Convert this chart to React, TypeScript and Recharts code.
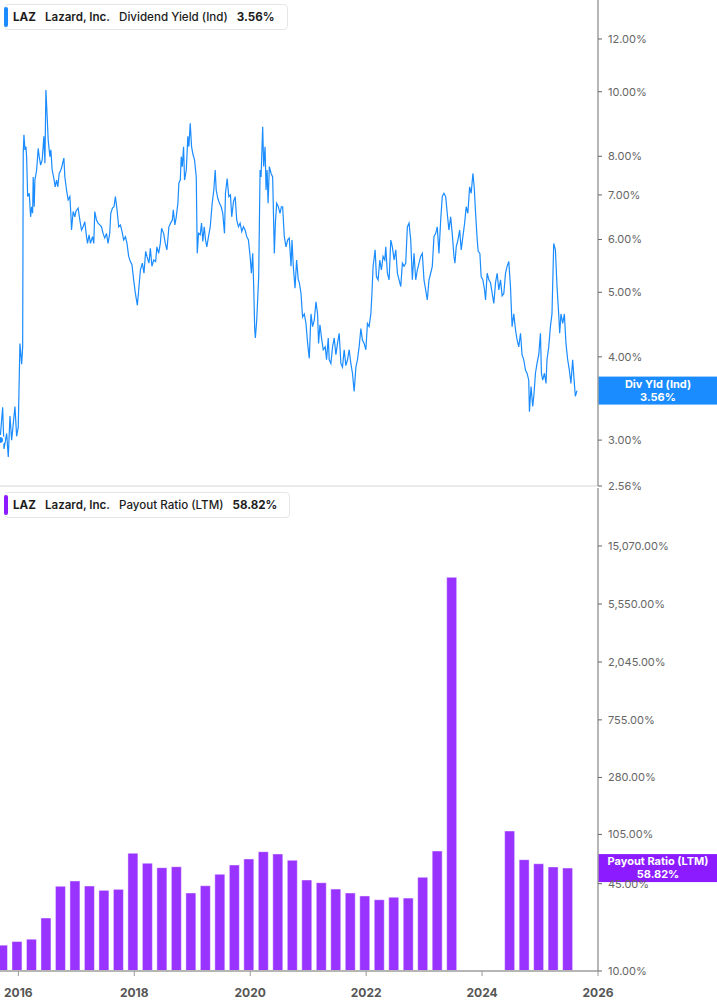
import React from "react";
import { ComposedChart, Line, Bar, XAxis, YAxis, ReferenceLine } from "recharts";

const FONT = "Inter, 'Noto Sans', sans-serif";
const X_DOMAIN: [number, number] = [2015.683, 2026.0];
const yearTicks = [2016, 2018, 2020, 2022, 2024, 2026];

// dividend yield (indicated), % — [fractional year, value]
const divYield: [number, number][] = [
  [2015.683, 3.0], [2015.729, 3.36], [2015.752, 2.91], [2015.798, 3.07], [2015.826, 2.83], [2015.855, 3.26],
  [2015.884, 3.0], [2015.941, 3.37], [2015.97, 3.04], [2015.998, 3.14], [2016.027, 4.19], [2016.057, 3.9],
  [2016.074, 4.14], [2016.084, 8.1], [2016.096, 8.62], [2016.113, 8.18], [2016.131, 8.27], [2016.143, 7.95],
  [2016.16, 6.96], [2016.187, 7.04], [2016.211, 6.49], [2016.229, 6.72], [2016.246, 6.57], [2016.256, 7.45],
  [2016.273, 6.72], [2016.285, 7.37], [2016.315, 7.63], [2016.342, 8.22], [2016.359, 7.99], [2016.384, 7.76],
  [2016.411, 7.9], [2016.44, 8.57], [2016.458, 7.81], [2016.475, 10.06], [2016.497, 9.17], [2016.514, 8.47],
  [2016.544, 7.99], [2016.561, 8.18], [2016.583, 7.63], [2016.612, 7.41], [2016.635, 7.2], [2016.659, 7.37],
  [2016.681, 7.2], [2016.704, 7.54], [2016.733, 7.63], [2016.75, 7.72], [2016.785, 7.95], [2016.802, 7.45],
  [2016.831, 7.12], [2016.859, 6.88], [2016.888, 6.96], [2016.905, 6.57], [2016.917, 6.2], [2016.945, 6.61],
  [2016.974, 6.49], [2016.991, 6.61], [2017.031, 6.69], [2017.06, 6.42], [2017.089, 6.2], [2017.117, 6.27],
  [2017.146, 6.38], [2017.175, 6.06], [2017.193, 5.92], [2017.22, 6.1], [2017.244, 5.92], [2017.279, 6.06],
  [2017.301, 5.92], [2017.318, 6.61], [2017.347, 6.42], [2017.375, 6.35], [2017.404, 6.31], [2017.434, 6.27],
  [2017.461, 6.13], [2017.49, 6.03], [2017.52, 6.13], [2017.547, 5.92], [2017.576, 6.13], [2017.594, 6.57],
  [2017.623, 6.69], [2017.65, 6.72], [2017.674, 6.96], [2017.702, 6.65], [2017.731, 6.27], [2017.761, 6.31],
  [2017.795, 6.13], [2017.817, 5.99], [2017.847, 6.06], [2017.874, 5.92], [2017.903, 5.66], [2017.933, 5.56],
  [2017.96, 5.5], [2017.989, 5.22], [2018.019, 4.98], [2018.053, 4.78], [2018.081, 5.1], [2018.105, 5.4],
  [2018.139, 5.53], [2018.167, 5.34], [2018.196, 5.76], [2018.218, 5.66], [2018.253, 5.53], [2018.277, 5.82],
  [2018.304, 5.47], [2018.334, 5.59], [2018.368, 5.56], [2018.39, 5.85], [2018.42, 5.72], [2018.449, 5.92],
  [2018.471, 6.24], [2018.506, 6.13], [2018.535, 5.92], [2018.563, 5.79], [2018.597, 6.27], [2018.626, 6.35],
  [2018.656, 6.42], [2018.673, 6.65], [2018.7, 6.31], [2018.724, 6.49], [2018.752, 6.8], [2018.769, 7.29],
  [2018.793, 7.37], [2018.81, 7.99], [2018.828, 7.72], [2018.85, 8.27], [2018.867, 7.37], [2018.897, 7.63],
  [2018.924, 8.57], [2018.941, 8.27], [2018.965, 8.97], [2018.988, 8.27], [2019.01, 8.07], [2019.039, 7.9],
  [2019.069, 7.45], [2019.086, 5.72], [2019.108, 6.13], [2019.137, 6.1], [2019.16, 6.35], [2019.182, 5.96],
  [2019.206, 6.27], [2019.229, 5.99], [2019.251, 5.85], [2019.28, 6.06], [2019.31, 6.27], [2019.344, 6.8],
  [2019.372, 7.12], [2019.396, 7.63], [2019.413, 7.12], [2019.44, 6.92], [2019.47, 6.8], [2019.499, 6.72],
  [2019.526, 6.57], [2019.556, 6.13], [2019.573, 7.04], [2019.602, 7.41], [2019.63, 6.96], [2019.659, 7.0],
  [2019.681, 6.49], [2019.711, 6.84], [2019.74, 6.96], [2019.767, 6.42], [2019.797, 6.27], [2019.826, 6.35],
  [2019.854, 6.17], [2019.883, 6.27], [2019.912, 6.2], [2019.94, 6.06], [2019.969, 5.99], [2019.998, 5.66],
  [2020.02, 5.34], [2020.043, 5.72], [2020.06, 5.1], [2020.077, 4.41], [2020.089, 4.27], [2020.112, 4.54],
  [2020.136, 5.04], [2020.146, 5.28], [2020.17, 7.63], [2020.187, 7.45], [2020.215, 8.86], [2020.232, 7.72],
  [2020.256, 8.27], [2020.273, 7.12], [2020.291, 7.63], [2020.308, 6.8], [2020.33, 7.72], [2020.36, 7.54],
  [2020.387, 7.45], [2020.416, 5.72], [2020.434, 6.35], [2020.456, 6.8], [2020.485, 6.72], [2020.514, 6.57],
  [2020.537, 6.72], [2020.559, 6.72], [2020.588, 6.06], [2020.618, 5.85], [2020.645, 5.99], [2020.674, 6.03],
  [2020.704, 5.47], [2020.721, 5.99], [2020.743, 5.47], [2020.773, 5.07], [2020.8, 5.59], [2020.829, 5.22],
  [2020.847, 5.17], [2020.876, 4.98], [2020.903, 4.59], [2020.933, 4.64], [2020.962, 4.49], [2020.99, 4.19],
  [2021.019, 3.98], [2021.048, 4.64], [2021.076, 4.44], [2021.105, 4.54], [2021.134, 4.84], [2021.162, 4.64],
  [2021.179, 4.19], [2021.203, 4.47], [2021.23, 4.27], [2021.26, 4.1], [2021.294, 4.14], [2021.317, 3.96],
  [2021.346, 4.27], [2021.363, 3.96], [2021.392, 3.91], [2021.42, 4.14], [2021.449, 4.27], [2021.478, 4.03],
  [2021.506, 4.19], [2021.535, 4.34], [2021.564, 3.91], [2021.592, 3.86], [2021.621, 4.1], [2021.65, 3.88],
  [2021.678, 3.96], [2021.707, 4.1], [2021.736, 3.91], [2021.764, 3.78], [2021.793, 3.55], [2021.823, 3.86],
  [2021.85, 3.96], [2021.879, 4.14], [2021.909, 4.41], [2021.936, 4.24], [2021.965, 4.19], [2021.995, 4.1],
  [2022.022, 4.49], [2022.051, 4.44], [2022.081, 4.64], [2022.098, 4.94], [2022.12, 5.47], [2022.155, 5.79],
  [2022.177, 5.28], [2022.206, 5.22], [2022.236, 5.59], [2022.263, 5.4], [2022.292, 5.66], [2022.322, 5.59],
  [2022.339, 5.85], [2022.366, 5.34], [2022.396, 5.22], [2022.425, 5.99], [2022.452, 5.85], [2022.482, 5.59],
  [2022.511, 5.79], [2022.539, 5.34], [2022.568, 5.22], [2022.597, 5.1], [2022.625, 5.53], [2022.654, 5.47],
  [2022.683, 5.53], [2022.711, 6.27], [2022.74, 6.35], [2022.769, 5.99], [2022.797, 5.22], [2022.826, 5.72],
  [2022.855, 5.22], [2022.883, 5.4], [2022.912, 5.53], [2022.941, 5.66], [2022.969, 5.72], [2022.998, 5.22],
  [2023.027, 5.04], [2023.055, 4.87], [2023.084, 5.22], [2023.113, 5.34], [2023.141, 5.47], [2023.17, 6.06],
  [2023.2, 6.13], [2023.227, 6.27], [2023.256, 5.72], [2023.286, 6.42], [2023.313, 6.96], [2023.342, 7.04],
  [2023.372, 6.96], [2023.399, 6.57], [2023.428, 6.2], [2023.458, 6.49], [2023.485, 6.13], [2023.515, 5.66],
  [2023.532, 5.53], [2023.554, 5.85], [2023.583, 5.99], [2023.613, 6.2], [2023.64, 5.79], [2023.669, 6.06],
  [2023.699, 6.35], [2023.726, 6.72], [2023.755, 6.57], [2023.785, 7.2], [2023.812, 7.04], [2023.842, 7.54],
  [2023.864, 7.2], [2023.888, 6.57], [2023.916, 5.99], [2023.933, 5.76], [2023.962, 5.72], [2023.984, 5.28],
  [2024.014, 5.22], [2024.043, 5.04], [2024.06, 4.87], [2024.088, 5.34], [2024.117, 5.22], [2024.146, 5.17],
  [2024.174, 4.98], [2024.203, 4.81], [2024.232, 5.17], [2024.26, 5.34], [2024.289, 5.04], [2024.318, 5.22],
  [2024.346, 4.94], [2024.375, 4.98], [2024.404, 5.34], [2024.432, 5.47], [2024.461, 5.56], [2024.49, 5.1],
  [2024.518, 4.44], [2024.547, 4.64], [2024.577, 4.39], [2024.604, 4.24], [2024.633, 4.14], [2024.663, 4.34],
  [2024.69, 4.03], [2024.719, 3.96], [2024.749, 3.82], [2024.776, 3.78], [2024.805, 3.69], [2024.817, 3.31],
  [2024.845, 3.61], [2024.874, 3.37], [2024.897, 3.53], [2024.921, 3.78], [2024.948, 3.91], [2024.978, 4.03],
  [2025.007, 4.34], [2025.024, 3.78], [2025.046, 3.69], [2025.076, 3.78], [2025.103, 3.65], [2025.12, 3.96],
  [2025.15, 4.14], [2025.179, 4.44], [2025.206, 4.64], [2025.236, 5.92], [2025.265, 5.79], [2025.293, 5.1],
  [2025.322, 4.64], [2025.339, 4.34], [2025.361, 4.64], [2025.391, 4.49], [2025.42, 4.64], [2025.447, 4.19],
  [2025.477, 3.96], [2025.506, 3.82], [2025.533, 3.65], [2025.563, 3.96], [2025.585, 3.72], [2025.609, 3.49],
  [2025.637, 3.56],
];

const yieldTicks = [2.56, 3, 4, 5, 6, 7, 8, 10, 12];
const YIELD_DOMAIN: [number, number] = [2.56, 13.73];
const lastYield = 3.56;

// payout ratio (LTM), % — quarter ends; Q3 2023 – Q1 2024 not reported
const payoutQuarters = [
  2015.73, 2015.98, 2016.23, 2016.48, 2016.73, 2016.98, 2017.23, 2017.48, 2017.73, 2017.98,
  2018.23, 2018.48, 2018.73, 2018.98, 2019.23, 2019.48, 2019.73, 2019.98, 2020.23, 2020.48,
  2020.73, 2020.98, 2021.23, 2021.48, 2021.73, 2021.98, 2022.23, 2022.48, 2022.73, 2022.98,
  2023.23, 2023.48, 2024.48, 2024.73, 2024.98, 2025.23, 2025.48,
];
const payoutValues = [
  15.6, 16.6, 17.3, 24.9, 43.0, 47.1, 43.2, 40.1, 40.8, 75.9,
  63.9, 59.2, 60.2, 38.3, 43.4, 52.9, 62.0, 68.8, 78.0, 75.0,
  67.3, 47.9, 45.7, 41.0, 38.3, 36.4, 34.1, 35.6, 35.1, 50.2,
  78.9, 8786, 111.4, 68.0, 63.4, 60.0, 58.82,
];
const payoutTicks = [10, 45, 105, 280, 755, 2045, 5550, 15070];
const PAYOUT_DOMAIN: [number, number] = [10, 40880];
const lastPayout = 58.82;

const BLUE = "#1a8cff";
const PURPLE = "#9933ff";
const PURPLE_TAG = "#8c1cff";
const AXIS = "#9e9e9e";

const yieldData = divYield.map(([t, v]) => ({ t, v }));
const payoutData = payoutQuarters.map((t, i) => ({ t, v: payoutValues[i] }));

const pct2 = (v: number) => `${v.toFixed(2)}%`;
const pctBig = (v: number) =>
  `${v.toLocaleString("en-US", { minimumFractionDigits: 2, maximumFractionDigits: 2 })}%`;

function ValueTag({ viewBox, fill, title, value }: any) {
  const x = viewBox.x + viewBox.width;
  const y = viewBox.y;
  return (
    <g>
      <rect x={x} y={y - 14} width={119} height={28} fill={fill} />
      <text x={x + 60} y={y - 3} textAnchor="middle" fill="#fff" fontSize={11} fontWeight={700}>{title}</text>
      <text x={x + 60} y={y + 10} textAnchor="middle" fill="#fff" fontSize={11} fontWeight={700}>{value}</text>
    </g>
  );
}

function LegendBox({ top, color, metric, value }: { top: number; color: string; metric: string; value: string }) {
  return (
    <div style={{
      position: "absolute", left: 4, top, height: 26, display: "flex", alignItems: "center",
      border: "1px solid #e6e6e6", borderRadius: 4, background: "#fff", fontSize: 11.6, color: "#1c1c1c",
      paddingRight: 12, boxSizing: "border-box", zIndex: 3,
    }}>
      <div style={{ position: "absolute", left: -1, top: 2, bottom: 2, width: 4, borderRadius: 2, background: color }} />
      <span style={{ marginLeft: 8, fontWeight: 700 }}>LAZ</span>
      <span style={{ marginLeft: 9, fontWeight: 600 }}>Lazard, Inc.</span>
      <span style={{ marginLeft: 9, fontWeight: 500 }}>{metric}</span>
      <span style={{ marginLeft: 9, fontWeight: 700 }}>{value}</span>
    </div>
  );
}

export default function App() {
  return (
    <div style={{ position: "relative", width: 717, height: 1005, fontFamily: FONT, background: "#fff", overflow: "hidden" }}>
      <style>{"body{margin:0} .recharts-surface{overflow:visible}"}</style>
      <div style={{ position: "relative", zIndex: 2, height: 487 }}>
        <ComposedChart width={717} height={487} data={yieldData} margin={{ top: 0, right: 0, bottom: 0, left: 0 }}>
          <XAxis dataKey="t" type="number" domain={X_DOMAIN} allowDataOverflow height={1}
            tick={false} tickLine={false} axisLine={{ stroke: "#d6d6d6" }} />
          <YAxis orientation="right" width={119} scale="log" domain={YIELD_DOMAIN} allowDataOverflow
            ticks={yieldTicks} tickFormatter={pct2} interval={0}
            tick={{ fontSize: 11, fill: "#666" }} tickSize={4} tickMargin={6}
            axisLine={{ stroke: AXIS, strokeWidth: 1.5 }} tickLine={{ stroke: "#666" }} />
          <Line type="linear" dataKey="v" stroke={BLUE} strokeWidth={1.2} dot={false} isAnimationActive={false} />
          <ReferenceLine y={lastYield} stroke="none"
            label={<ValueTag fill={BLUE} title="Div Yld (Ind)" value={pct2(lastYield)} />} />
        </ComposedChart>
      </div>

      <div style={{ position: "relative", zIndex: 1 }}>
        <ComposedChart width={717} height={518} data={payoutData} margin={{ top: 1, right: 0, bottom: 0, left: 0 }}>
          <XAxis dataKey="t" type="number" domain={X_DOMAIN} allowDataOverflow height={34}
            ticks={yearTicks} interval={0} tickSize={5} tickMargin={12}
            tick={{ fontSize: 12, fontWeight: 700, fill: "#555" }}
            axisLine={{ stroke: "#b5b5b5", strokeWidth: 2 }} tickLine={{ stroke: "#999" }} />
          <YAxis orientation="right" width={119} scale="log" domain={PAYOUT_DOMAIN} allowDataOverflow
            ticks={payoutTicks} tickFormatter={pctBig} interval={0}
            tick={{ fontSize: 11, fill: "#666" }} tickSize={4} tickMargin={6}
            axisLine={{ stroke: AXIS, strokeWidth: 1.5 }} tickLine={{ stroke: "#666" }} />
          <Bar dataKey="v" barSize={10} fill={PURPLE} stroke="#ffffff" strokeOpacity={0.45} strokeWidth={1}
            isAnimationActive={false} />
          <ReferenceLine y={lastPayout} stroke="none"
            label={<ValueTag fill={PURPLE_TAG} title="Payout Ratio (LTM)" value={pct2(lastPayout)} />} />
        </ComposedChart>
      </div>

      <LegendBox top={4} color={BLUE} metric="Dividend Yield (Ind)" value="3.56%" />
      <LegendBox top={492} color={PURPLE_TAG} metric="Payout Ratio (LTM)" value="58.82%" />
    </div>
  );
}
